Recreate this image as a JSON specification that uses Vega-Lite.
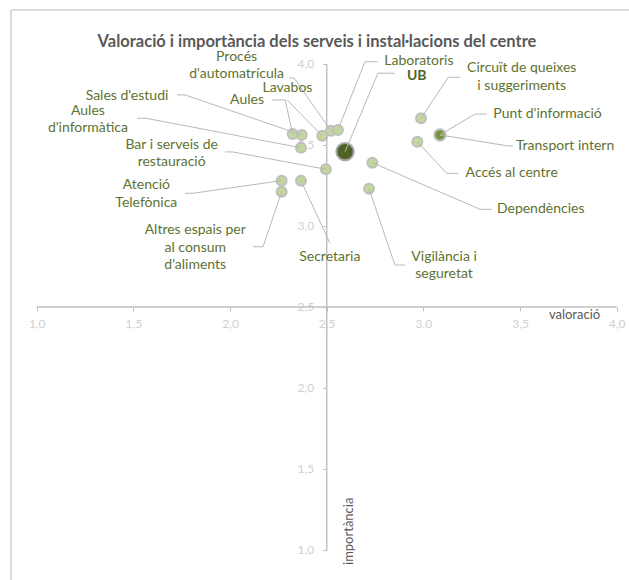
{
  "$schema": "https://vega.github.io/schema/vega-lite/v6.json",
  "width": 618,
  "height": 570,
  "autosize": {"type": "none"},
  "padding": {"left": 11, "top": 10, "right": 0, "bottom": 0},
  "background": "white",
  "title": {
    "text": "Valoració i importància dels serveis i instal·lacions del centre",
    "font": "Lato", "fontSize": 16.5, "fontWeight": "bold", "color": "#595959",
    "anchor": "middle", "frame": "group", "offset": -53, "baseline": "alphabetic", "dx": -3
  },
  "config": {
    "view": {"stroke": "#d0d0d0", "strokeWidth": 1.5, "strokeDash": [618, 1188, 570, 0]},
    "font": "Lato"
  },
  "datasets": {
    "punts": [
      {"nom": "Sales d'estudi", "valoracio": 2.371, "importancia": 3.562, "lx": 1.467, "ly": 3.804, "ex": 1.767, "ey": 3.809, "hx": 1.726},
      {"nom": "Aules", "valoracio": 2.324, "importancia": 3.568, "lx": 2.088, "ly": 3.778, "ex": 2.285, "ey": 3.778, "hx": 2.217},
      {"nom": "Aules\nd'informàtica", "valoracio": 2.367, "importancia": 3.483, "lx": 1.265, "ly": 3.712, "ex": 1.565, "ey": 3.665, "hx": 1.519},
      {"nom": "Lavabos", "valoracio": 2.477, "importancia": 3.557, "lx": 2.297, "ly": 3.854, "ex": 2.295, "ey": 3.778, "hx": 2.295},
      {"nom": "Procés\nd'automatrícula", "valoracio": 2.522, "importancia": 3.588, "lx": 2.034, "ly": 4.045, "ex": 2.331, "ey": 3.914, "hx": 2.305},
      {"nom": "Laboratoris", "valoracio": 2.558, "importancia": 3.593, "lx": 2.977, "ly": 4.02, "ex": 2.698, "ey": 4.014, "hx": 2.765},
      {"nom": "Bar i serveis de\nrestauració", "valoracio": 2.496, "importancia": 3.35, "lx": 1.698, "ly": 3.5, "ex": 2.015, "ey": 3.457, "hx": 1.974},
      {"nom": "Dependències", "valoracio": 2.736, "importancia": 3.391, "lx": 3.607, "ly": 3.103, "ex": 3.293, "ey": 3.103, "hx": 3.353},
      {"nom": "Vigilància i\nseguretat", "valoracio": 2.719, "importancia": 3.23, "lx": 3.107, "ly": 2.811, "ex": 2.853, "ey": 2.759, "hx": 2.905},
      {"nom": "Atenció\nTelefònica", "valoracio": 2.267, "importancia": 3.28, "lx": 1.567, "ly": 3.253, "ex": 1.808, "ey": 3.202, "hx": 1.767},
      {"nom": "Altres espais per\nal consum\nd'aliments", "valoracio": 2.267, "importancia": 3.212, "lx": 1.82, "ly": 2.975, "ex": 2.171, "ey": 2.872, "hx": 2.119},
      {"nom": "Secretaria", "valoracio": 2.367, "importancia": 3.28, "lx": 2.516, "ly": 2.807, "ex": 2.517, "ey": 2.893, "hx": 2.517},
      {"nom": "Circuït de queixes\ni suggeriments", "valoracio": 2.988, "importancia": 3.665, "lx": 3.509, "ly": 3.973, "ex": 3.129, "ey": 3.918, "hx": 3.19},
      {"nom": "Transport intern", "valoracio": 3.086, "importancia": 3.562, "lx": 3.733, "ly": 3.494, "ex": 3.439, "ey": 3.494, "hx": 3.464},
      {"nom": "Accés al centre", "valoracio": 2.969, "importancia": 3.52, "lx": 3.457, "ly": 3.325, "ex": 3.121, "ey": 3.325, "hx": 3.179},
      {"nom": "Punt d'informació", "valoracio": 3.086, "importancia": 3.562, "lx": 3.642, "ly": 3.691, "ex": 3.267, "ey": 3.691, "hx": 3.328},
      {"nom": "UB", "valoracio": 2.595, "importancia": 3.459, "lx": 2.966, "ly": 3.925, "ex": 2.765, "ey": 3.943, "hx": 2.853}
    ]
  },
  "layer": [
    {
      "data": {"values": [{"x": 1, "x2": 4, "y": 2.5}]},
      "mark": {"type": "rule", "color": "#bfbfbf", "strokeWidth": 1.5},
      "encoding": {
        "x": {
          "field": "x", "type": "quantitative", "title": "valoració",
          "scale": {"domain": [0.867, 4.0637], "nice": false, "zero": false},
          "axis": {
            "orient": "bottom", "offset": -273,
            "values": [1, 1.5, 2, 2.5, 3, 3.5, 4],
            "domain": false, "grid": false,
            "tickColor": "#bfbfbf", "tickSize": 4, "tickWidth": 1,
            "labelColor": "#d0d0d0", "labelFont": "Lato", "labelFontSize": 12,
            "labelPadding": 7, "labelFlush": false, "labelOverlap": false,
            "labelExpr": "replace(format(datum.value, '.1f'), '.', ',')",
            "titleX": 563, "titleY": 7,
            "titleAlign": "center", "titleBaseline": "middle",
            "titleColor": "#595959", "titleFont": "Lato", "titleFontSize": 13, "titleFontWeight": "normal"
          }
        },
        "x2": {"field": "x2"},
        "y": {
          "field": "y", "type": "quantitative", "title": "importància",
          "scale": {"domain": [0.8148, 4.3333], "nice": false, "zero": false},
          "axis": {
            "orient": "left", "offset": -315.7,
            "values": [1, 1.5, 2, 2.5, 3, 3.5, 4],
            "domain": false, "grid": false,
            "tickColor": "#bfbfbf", "tickSize": 4, "tickWidth": 1,
            "labelColor": "#d0d0d0", "labelFont": "Lato", "labelFontSize": 12,
            "labelPadding": 9, "labelFlush": false, "labelOverlap": false,
            "labelExpr": "replace(format(datum.value, '.1f'), '.', ',')",
            "titleX": 21.6, "titleY": 520.8, "titleAngle": -90,
            "titleAlign": "center", "titleBaseline": "middle",
            "titleColor": "#595959", "titleFont": "Lato", "titleFontSize": 13, "titleFontWeight": "normal"
          }
        }
      }
    },
    {
      "data": {"values": [{"x": 2.5, "y": 1, "y2": 4}]},
      "mark": {"type": "rule", "color": "#bfbfbf", "strokeWidth": 1.5},
      "encoding": {
        "x": {"field": "x", "type": "quantitative", "title": "valoració"},
        "y": {"field": "y", "type": "quantitative", "title": "importància"},
        "y2": {"field": "y2"}
      }
    },
    {
      "data": {"name": "punts"},
      "transform": [{"filter": "datum.nom !== 'UB' && datum.nom !== \"Punt d'informació\""}],
      "mark": {"type": "circle", "size": 100, "color": "#c3d69b", "opacity": 1, "stroke": "#bfbfbf", "strokeWidth": 2},
      "encoding": {
        "x": {"field": "valoracio", "type": "quantitative", "title": "valoració"},
        "y": {"field": "importancia", "type": "quantitative", "title": "importància"}
      }
    },
    {
      "data": {"name": "punts"},
      "transform": [{"filter": "datum.nom === \"Punt d'informació\""}],
      "mark": {"type": "circle", "size": 130, "color": "#77933c", "opacity": 1, "stroke": "#bfbfbf", "strokeWidth": 2},
      "encoding": {
        "x": {"field": "valoracio", "type": "quantitative", "title": "valoració"},
        "y": {"field": "importancia", "type": "quantitative", "title": "importància"}
      }
    },
    {
      "data": {"name": "punts"},
      "transform": [{"filter": "datum.nom === 'UB'"}],
      "mark": {"type": "circle", "size": 300, "color": "#4f6228", "opacity": 1, "stroke": "#a6a6a6", "strokeWidth": 2},
      "encoding": {
        "x": {"field": "valoracio", "type": "quantitative", "title": "valoració"},
        "y": {"field": "importancia", "type": "quantitative", "title": "importància"}
      }
    },
    {
      "data": {"name": "punts"},
      "mark": {"type": "rule", "color": "#b8b8b8", "strokeWidth": 1},
      "encoding": {
        "x": {"field": "valoracio", "type": "quantitative", "title": "valoració"},
        "y": {"field": "importancia", "type": "quantitative", "title": "importància"},
        "x2": {"field": "ex"},
        "y2": {"field": "ey"}
      }
    },
    {
      "data": {"name": "punts"},
      "mark": {"type": "rule", "color": "#b8b8b8", "strokeWidth": 1},
      "encoding": {
        "x": {"field": "ex", "type": "quantitative", "title": "valoració"},
        "x2": {"field": "hx"},
        "y": {"field": "ey", "type": "quantitative", "title": "importància"}
      }
    },
    {
      "data": {"name": "punts"},
      "transform": [{"filter": "datum.nom !== 'UB'"}],
      "mark": {"type": "text", "font": "Lato", "fontSize": 14, "color": "#5e7230", "align": "center", "baseline": "middle", "lineBreak": "\n", "lineHeight": 17.5},
      "encoding": {
        "x": {"field": "lx", "type": "quantitative", "title": "valoració"},
        "y": {"field": "ly", "type": "quantitative", "title": "importància"},
        "text": {"field": "nom"}
      }
    },
    {
      "data": {"name": "punts"},
      "transform": [{"filter": "datum.nom === 'UB'"}],
      "mark": {"type": "text", "font": "Lato", "fontSize": 14, "fontWeight": "bold", "color": "#4f6228", "align": "center", "baseline": "middle"},
      "encoding": {
        "x": {"field": "lx", "type": "quantitative", "title": "valoració"},
        "y": {"field": "ly", "type": "quantitative", "title": "importància"},
        "text": {"field": "nom"}
      }
    }
  ]
}
